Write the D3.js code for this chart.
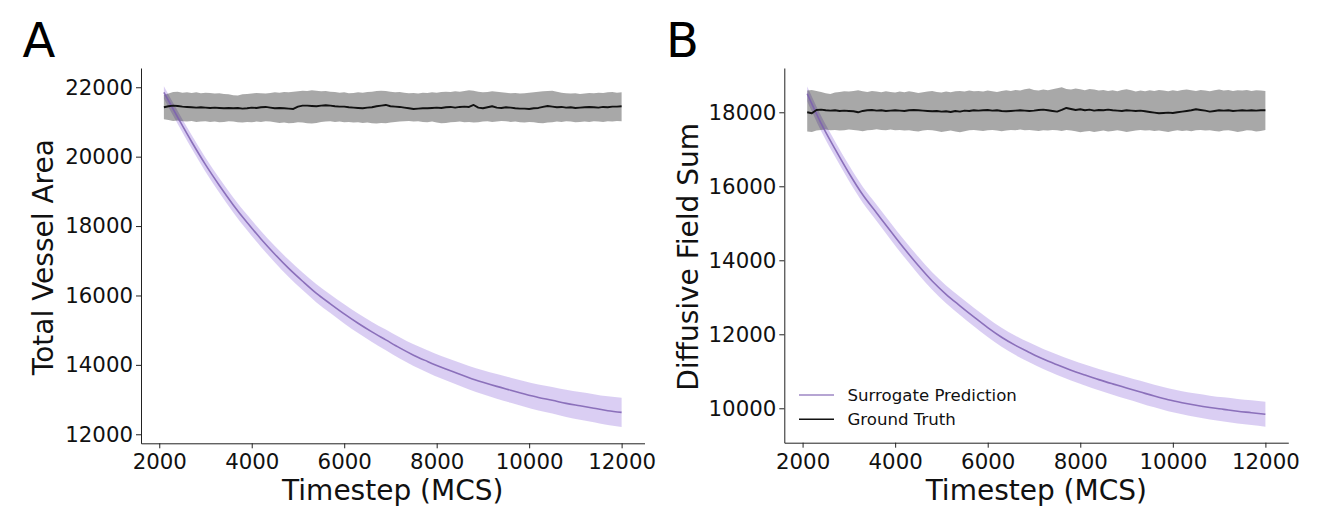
<!DOCTYPE html>
<html><head><meta charset="utf-8">
<script src="https://cdn.jsdelivr.net/npm/d3@7"></script>
<style>
body{margin:0;background:#fff;}
svg{display:block;font-family:"DejaVu Sans",sans-serif;}
.axis .domain,.axis line{stroke:#222;stroke-width:1;}
.axis text{fill:#111;font-size:21.3px;font-family:"DejaVu Sans",sans-serif;}
</style></head>
<body>
<svg id="chart" width="1322" height="515"></svg>
<script>
// ---- data ----
const gtSteps = d3.range(2100, 12001, 100);      // ground-truth timesteps (100)
const predSteps = d3.range(2100, 12001, 300);    // surrogate timesteps (34)
const xTicks = [2000, 4000, 6000, 8000, 10000, 12000];
const yTicksA = [12000, 14000, 16000, 18000, 20000, 22000];
const yTicksB = [10000, 12000, 14000, 16000, 18000];
const legendLabels = ["Surrogate Prediction", "Ground Truth"];

// Panel A: Total Vessel Area
const gtMeanA = [21423,21452,21471,21461,21442,21433,21423,21413,21423,21413,
 21404,21413,21404,21394,21404,21394,21404,21385,21394,21413,
 21404,21423,21433,21413,21394,21404,21394,21385,21375,21442,
 21471,21471,21461,21452,21471,21481,21471,21452,21442,21442,
 21423,21413,21404,21394,21413,21423,21452,21471,21490,21452,
 21442,21433,21413,21394,21375,21385,21394,21394,21404,21413,
 21404,21423,21433,21413,21433,21442,21433,21490,21413,21394,
 21423,21452,21413,21404,21423,21413,21394,21385,21385,21375,
 21394,21404,21433,21461,21442,21423,21433,21413,21423,21404,
 21413,21423,21433,21423,21413,21433,21423,21442,21442,21452];
const gtUpperA = [21778,21817,21865,21874,21845,21855,21836,21855,21826,21845,
 21836,21817,21826,21807,21797,21768,21759,21797,21807,21817,
 21836,21826,21817,21836,21855,21845,21865,21855,21874,21884,
 21903,21893,21913,21903,21884,21893,21874,21865,21845,21855,
 21826,21836,21855,21845,21865,21874,21893,21903,21893,21874,
 21855,21865,21845,21826,21836,21817,21845,21836,21855,21845,
 21865,21874,21865,21884,21874,21893,21913,21903,21874,21855,
 21865,21884,21874,21855,21845,21826,21836,21817,21826,21845,
 21855,21874,21884,21893,21903,21874,21845,21826,21817,21826,
 21807,21817,21836,21826,21845,21836,21855,21865,21845,21855];
const gtLowerA = [21077,21058,21029,21039,21020,21010,21029,21001,21010,21020,
 21001,21010,20991,21001,21020,21010,20991,20981,21001,20991,
 21010,21001,21020,21010,20991,20972,20981,20962,20972,20991,
 20981,20962,20953,20972,21001,21010,21020,21001,21010,20991,
 21001,20981,20991,20972,20981,20962,20953,20972,20962,20981,
 21001,21010,21020,21029,21010,21020,21001,20991,21010,20981,
 20962,20972,20991,21001,21010,20991,21001,20981,20991,21010,
 21020,21001,21010,21029,21020,21001,21010,20991,20981,21001,
 20991,20972,20962,20981,20991,21010,21001,21020,21010,20991,
 21001,21010,21001,21020,21010,21001,21020,21010,21029,21020];
const predMeanA = [21850,21130,20430,19770,19170,18610,18100,17630,17190,16780,
 16410,16060,15760,15470,15200,14950,14720,14490,14280,14100,
 13930,13780,13630,13500,13380,13270,13160,13060,12980,12890,
 12820,12750,12680,12630];
const predStdA = [180,187,195,202,209,216,224,231,238,246,253,260,268,275,282,289,297,
 304,311,319,326,333,341,348,355,362,370,377,384,392,399,406,413,420];

// Panel B: Diffusive Field Sum
const gtMeanB = [18000,17973,18063,18072,18054,18045,18054,18036,18045,18036,
 18027,18000,18036,18054,18063,18045,18054,18036,18045,18054,
 18045,18036,18054,18063,18054,18045,18036,18027,18036,18018,
 18027,18009,18036,18018,18045,18036,18054,18045,18054,18063,
 18045,18054,18036,18027,18036,18045,18054,18045,18036,18045,
 18063,18072,18054,18036,18018,18063,18117,18090,18063,18081,
 18054,18072,18045,18063,18054,18072,18054,18045,18036,18054,
 18045,18036,18045,18027,18009,17991,17973,17982,17991,17982,
 18000,18018,18036,18054,18081,18063,18045,18018,18036,18054,
 18045,18054,18036,18045,18054,18045,18054,18045,18054,18054];
const gtUpperB = [18586,18604,18577,18550,18514,18496,18532,18550,18568,18559,
 18577,18595,18568,18550,18577,18559,18541,18568,18550,18532,
 18559,18541,18568,18550,18523,18541,18559,18577,18550,18532,
 18559,18541,18568,18577,18559,18586,18568,18577,18559,18586,
 18568,18550,18577,18595,18577,18604,18586,18622,18640,18604,
 18586,18613,18595,18622,18649,18676,18631,18613,18640,18622,
 18595,18631,18613,18586,18604,18577,18595,18568,18604,18622,
 18595,18559,18586,18568,18595,18577,18604,18586,18568,18595,
 18577,18604,18613,18595,18577,18604,18586,18568,18595,18613,
 18586,18604,18577,18595,18586,18604,18577,18595,18586,18577];
const gtLowerB = [17479,17470,17506,17524,17533,17515,17524,17506,17515,17533,
 17524,17506,17488,17515,17524,17542,17524,17515,17533,17515,
 17524,17506,17515,17497,17479,17506,17524,17515,17497,17470,
 17488,17506,17479,17461,17488,17515,17524,17506,17497,17515,
 17524,17506,17488,17506,17524,17515,17533,17515,17524,17506,
 17497,17515,17506,17524,17515,17497,17524,17506,17488,17461,
 17479,17497,17470,17488,17506,17479,17497,17515,17497,17470,
 17488,17506,17524,17506,17515,17497,17506,17488,17470,17497,
 17515,17497,17506,17488,17515,17524,17506,17515,17497,17479,
 17506,17515,17497,17470,17488,17515,17506,17479,17497,17524];
const predMeanB = [18500,17700,17010,16360,15770,15280,14790,14310,13860,13440,
 13080,12770,12470,12180,11920,11700,11510,11330,11175,11030,
 10900,10775,10660,10550,10440,10330,10230,10150,10080,10020,
 9970,9920,9880,9837];
const predStdB = [200,204,208,213,217,221,225,229,234,238,242,246,250,255,259,263,267,
 271,276,280,284,288,292,297,301,305,309,313,318,322,326,330,334,339];

// ---- drawing ----
const svg = d3.select("#chart");
svg.append("rect").attr("width",1322).attr("height",515).attr("fill","#fff");

const PURPLE = "#7d5fb0";
const FONT = "DejaVu Sans";

function panel(o){
  const x = d3.scaleLinear().domain([1605, 12495]).range(o.xr);
  const y = d3.scaleLinear().domain(o.yd).range(o.yr);
  const g = svg.append("g");

  const gt = gtSteps.map((t,i)=>({t, m:o.gtMean[i], lo:o.gtLower[i], hi:o.gtUpper[i]}));
  const pr = predSteps.map((t,i)=>({t, m:o.predMean[i], lo:o.predMean[i]-o.predStd[i], hi:o.predMean[i]+o.predStd[i]}));

  const area = d3.area().x(d=>x(d.t)).y0(d=>y(d.lo)).y1(d=>y(d.hi));
  const areaSmooth = d3.area().x(d=>x(d.t)).y0(d=>y(d.lo)).y1(d=>y(d.hi)).curve(d3.curveMonotoneX);
  const line = d3.line().x(d=>x(d.t)).y(d=>y(d.m));
  const lineSmooth = d3.line().x(d=>x(d.t)).y(d=>y(d.m)).curve(d3.curveMonotoneX);

  g.append("path").datum(pr).attr("d", areaSmooth).attr("fill","#9370db").attr("fill-opacity",0.34);
  g.append("path").datum(gt).attr("d", area).attr("fill","#000").attr("fill-opacity",0.34);
  g.append("path").datum(pr).attr("d", lineSmooth).attr("fill","none")
    .attr("stroke",PURPLE).attr("stroke-opacity",0.85).attr("stroke-width",1.6);
  g.append("path").datum(gt).attr("d", line).attr("fill","none")
    .attr("stroke","#111").attr("stroke-width",1.9).attr("stroke-linejoin","round");

  g.append("g").attr("class","axis").attr("transform",`translate(0,${o.yr[0]})`)
    .call(d3.axisBottom(x).tickValues(xTicks).tickFormat(d3.format("d")).tickSize(5).tickSizeOuter(0).tickPadding(6));
  g.append("g").attr("class","axis").attr("transform",`translate(${o.xr[0]},0)`)
    .call(d3.axisLeft(y).tickValues(o.yTicks).tickFormat(d3.format("d")).tickSize(5).tickSizeOuter(0).tickPadding(3));

  const cx = (o.xr[0]+o.xr[1])/2, cy = (o.yr[0]+o.yr[1])/2;
  g.append("text").attr("x",cx).attr("y",500).attr("text-anchor","middle")
    .attr("font-family",FONT).attr("font-size",28).attr("fill","#111").text("Timestep (MCS)");
  g.append("text").attr("transform",`translate(${o.ylx},${cy+1.5}) rotate(-90)`).attr("text-anchor","middle")
    .attr("font-family",FONT).attr("font-size",28).attr("fill","#111").text(o.ylabel);
  g.append("text").attr("x",o.letterX).attr("y",57).attr("font-family",FONT).attr("font-size",48)
    .attr("fill","#000").text(o.letter);

  if(o.legend){
    const ly = [395, 419.3];
    const colors = [PURPLE, "#111"];
    const opac = [0.75, 1];
    legendLabels.forEach((lab,i)=>{
      g.append("line").attr("x1",799).attr("x2",834).attr("y1",ly[i]).attr("y2",ly[i])
        .attr("stroke",colors[i]).attr("stroke-opacity",opac[i]).attr("stroke-width",1.6);
      g.append("text").attr("x",847.5).attr("y",ly[i]).attr("dy","0.36em")
        .attr("font-family",FONT).attr("font-size",16.6).attr("fill","#111").text(lab);
    });
  }
}

panel({xr:[141,644.5], yr:[443.3,68], yd:[11740,22555], yTicks:yTicksA,
  gtMean:gtMeanA, gtUpper:gtUpperA, gtLower:gtLowerA, predMean:predMeanA, predStd:predStdA,
  ylabel:"Total Vessel Area", ylx:52.5, letter:"A", letterX:22.5, legend:false});
panel({xr:[784.3,1288.3], yr:[442.7,68], yd:[9070,19197], yTicks:yTicksB,
  gtMean:gtMeanB, gtUpper:gtUpperB, gtLower:gtLowerB, predMean:predMeanB, predStd:predStdB,
  ylabel:"Diffusive Field Sum", ylx:697.5, letter:"B", letterX:666, legend:true});
</script>
</body></html>
